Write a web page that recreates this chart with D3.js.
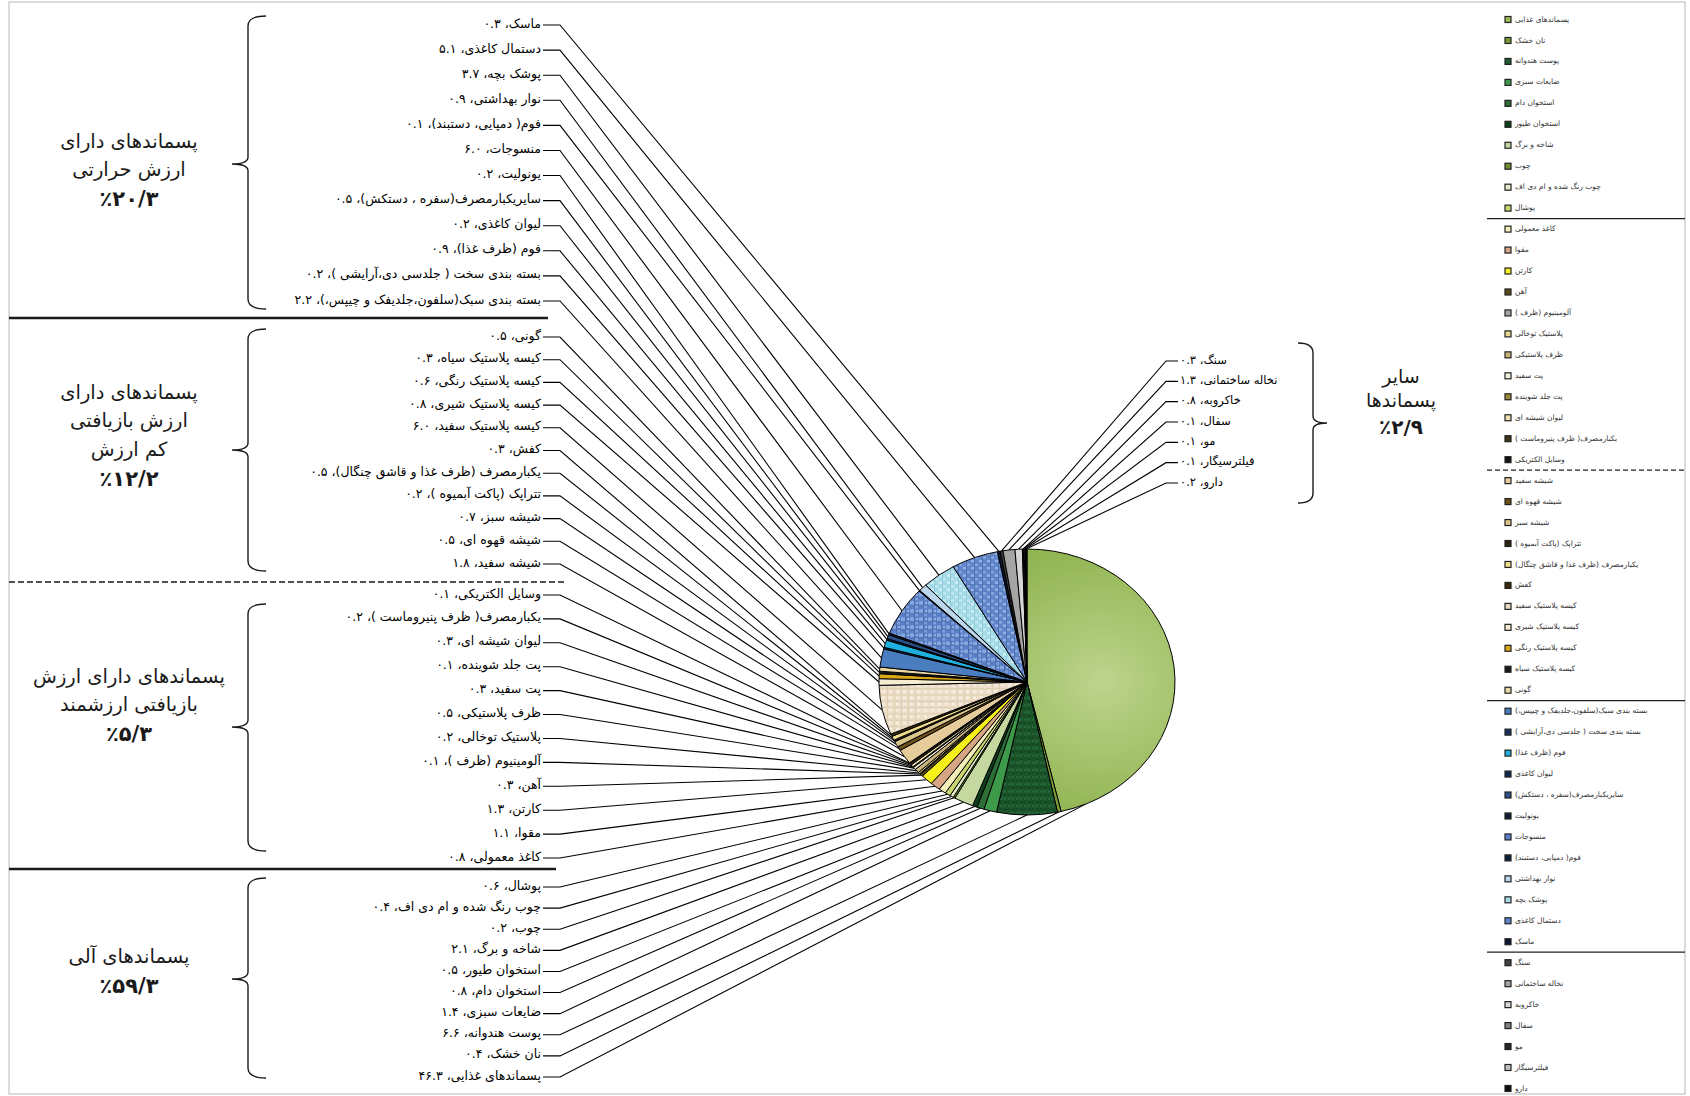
<!DOCTYPE html>
<html>
<head>
<meta charset="utf-8">
<script src="https://cdn.jsdelivr.net/npm/d3@7"></script>
<style>
  html, body { margin: 0; padding: 0; background: #fff; }
  svg { display: block; font-family: "DejaVu Sans", sans-serif; }
</style>
</head>
<body>
<svg id="chart" width="1690" height="1096"></svg>
<script>
// Waste components, in pie order (clockwise from 12 o'clock), percent by weight
const categories = [
  "پسماندهای غذایی", "نان خشک", "پوست هندوانه", "ضایعات سبزی", "استخوان دام",
  "استخوان طیور", "شاخه و برگ", "چوب", "چوب رنگ شده و ام دی اف", "پوشال",
  "کاغذ معمولی", "مقوا", "کارتن", "آهن", "آلومینیوم (ظرف )", "پلاستیک توخالی",
  "ظرف پلاستیکی", "پت سفید", "پت جلد شوینده", "لیوان شیشه ای",
  "یکبارمصرف( ظرف پنیروماست )", "وسایل الکتریکی",
  "شیشه سفید", "شیشه قهوه ای", "شیشه سبز", "تتراپک (پاکت آبمیوه )",
  "یکبارمصرف (ظرف غذا و قاشق چنگال)", "کفش", "کیسه پلاستیک سفید",
  "کیسه پلاستیک شیری", "کیسه پلاستیک رنگی", "کیسه پلاستیک سیاه", "گونی",
  "بسته بندی سبک(سلفون،جلدیفک و چیپس،)", "بسته بندی سخت ( جلدسی دی،آرایشی )",
  "فوم (ظرف غذا)", "لیوان کاغذی", "سایریکبارمصرف(سفره ، دستکش)", "یونولیت",
  "منسوجات", "فوم( دمپایی، دستبند)", "نوار بهداشتی", "پوشک بچه", "دستمال کاغذی", "ماسک",
  "سنگ", "نخاله ساختمانی", "خاکروبه", "سفال", "مو", "فیلترسیگار", "دارو"
];
const values = [
  46.3, 0.4, 6.6, 1.4, 0.8, 0.5, 2.1, 0.2, 0.4, 0.6,
  0.8, 1.1, 1.3, 0.3, 0.1, 0.2, 0.5, 0.3, 0.1, 0.3, 0.2, 0.1,
  1.8, 0.5, 0.7, 0.2, 0.5, 0.3, 6.0, 0.8, 0.6, 0.3, 0.5,
  2.2, 0.2, 0.9, 0.2, 0.5, 0.2, 6.0, 0.1, 0.9, 3.7, 5.1, 0.3,
  0.3, 1.3, 0.8, 0.1, 0.1, 0.1, 0.2
];
// number of consecutive components in each group
const groupSizes = [10, 12, 11, 12, 7];
const groupTitles = [
  ["پسماندهای آلی"],
  ["پسماندهای دارای ارزش", "بازیافتی ارزشمند"],
  ["پسماندهای دارای", "ارزش بازیافتی", "کم ارزش"],
  ["پسماندهای دارای", "ارزش حرارتی"],
  ["سایر", "پسماندها"]
];
const groupShares = [59.3, 5.3, 12.2, 20.3, 2.9];

// slice fills
const sliceColors = [
  "url(#foodGrad)", "#7a9a3a", "url(#patMelon)", "#3d9a4a", "#2b6e36",
  "#0f3d1c", "#c4d8a0", "#6f8f2f", "#e4edc8", "#c9d66f",
  "#f3eeb8", "#d6a583", "#f5ef1a", "#5a4a1a", "#a6a6a6", "#e8d890",
  "#c8b478", "#f5f0dc", "#9c8a3c", "#efe2b0", "#3e3415", "#111111",
  "#e6cc9a", "#6b4e1a", "#d9c48a", "#2b2410", "#f0dc8c", "#3a2a0a", "url(#patBeige)",
  "#f6ecd0", "#d9a81a", "#1a1a1a", "#e8d9a8",
  "#4a7cc0", "#16325c", "#20b0e0", "#0d2a50", "#2a4f8a", "#101c30",
  "url(#patBlue)", "#0c1f3d", "#bcd6ee", "url(#patCyan)", "url(#patBlue2)", "#0b1830",
  "#3f3f3f", "#a5a5a5", "#d6d6d6", "#7f7f7f", "#262626", "#bfbfbf", "#0d0d0d"
];
const legendColors = sliceColors.map(c => ({
  "url(#foodGrad)": "#9bbb59", "url(#patMelon)": "#1d5a2e", "url(#patBeige)": "#eadbc4",
  "url(#patBlue)": "#5b80c8", "url(#patCyan)": "#a6dbe8", "url(#patBlue2)": "#5f84cc"
}[c] || c));

const fa = s => String(s).replace(/\d/g, d => "۰۱۲۳۴۵۶۷۸۹"[+d]);

const data = categories.map((name, i) => ({ name, value: values[i], index: i }));

const svg = d3.select("#chart");
const defs = svg.append("defs");

// ----- fills -----
const fg = defs.append("radialGradient").attr("id", "foodGrad")
  .attr("gradientUnits", "userSpaceOnUse").attr("cx", 75).attr("cy", 0).attr("r", 150);
fg.append("stop").attr("offset", "0%").attr("stop-color", "#bdd48d");
fg.append("stop").attr("offset", "100%").attr("stop-color", "#92b553");

function pattern(id, size, bg, marks) {
  const p = defs.append("pattern").attr("id", id)
    .attr("patternUnits", "userSpaceOnUse").attr("width", size).attr("height", size);
  p.append("rect").attr("width", size).attr("height", size).attr("fill", bg);
  marks.forEach(m => p.append("rect").attr("x", m[0]).attr("y", m[1])
    .attr("width", m[2]).attr("height", m[3]).attr("fill", m[4]));
}
pattern("patBlue", 9, "#5a7fc6", [[0,0,4,4,"#86a7dd"],[5,5,3,3,"#7d9ed8"],[4,0,1,9,"#4a6db0"],[0,4,9,1,"#5274b6"],[6,1,2,2,"#9db8e6"]]);
pattern("patBlue2", 8, "#6186cc", [[0,0,3,3,"#93b2e3"],[4,4,3,3,"#86a6dc"],[3,0,1,8,"#4d6fb0"],[0,3,8,1,"#5578b8"]]);
pattern("patCyan", 8, "#a4d9e6", [[0,0,3,3,"#cdedf3"],[4,4,3,3,"#c0e6ee"],[3,0,1,8,"#8ccadb"]]);
pattern("patBeige", 7, "#ecdec8", [[0,0,7,1,"#ddccae"],[0,0,1,7,"#e0cfb2"],[2,2,3,3,"#f5ede0"]]);
pattern("patMelon", 8, "#1b5429", [[0,0,3,3,"#24643a"],[4,4,3,2,"#164a25"],[5,1,2,2,"#2a6a3c"],[1,5,2,2,"#123f1f"]]);

// ----- frame & separators -----
svg.append("rect").attr("x", 9).attr("y", 2).attr("width", 1676).attr("height", 1092)
  .attr("fill", "none").attr("stroke", "#c4c4c4").attr("stroke-width", 1.2);

const sep = (x1, x2, y, w, dash) => svg.append("line")
  .attr("x1", x1).attr("x2", x2).attr("y1", y).attr("y2", y)
  .attr("stroke", "#1a1a1a").attr("stroke-width", w).attr("stroke-dasharray", dash || null);
sep(9, 548, 318, 2.6);
sep(9, 565, 582, 1.6, "6,3");
sep(9, 556, 869, 2.6);

// ----- pie geometry -----
const cx = 1027, cy = 682, rx = 148, ry = 133;
const arcs = d3.pie().sort(null).value(d => d.value)(data);
const arcGen = d3.arc().innerRadius(0).outerRadius(rx);
const edgePoint = a => [cx + rx * Math.sin(a), cy - ry * Math.cos(a)];

// ----- label panels -----
const leftPanels = [
  { g: 3, top: 24, bottom: 300, braceTop: 16, braceBottom: 309, braceMid: 164, titleY: 142 },
  { g: 2, top: 336, bottom: 563, braceTop: 329, braceBottom: 571, braceMid: 450, titleY: 393 },
  { g: 1, top: 594, bottom: 857, braceTop: 604, braceBottom: 851, braceMid: 727, titleY: 677 },
  { g: 0, top: 886, bottom: 1076, braceTop: 878, braceBottom: 1078, braceMid: 979, titleY: 957 }
];
const groupStart = g => d3.sum(groupSizes.slice(0, g));

const labels = [];
leftPanels.forEach(p => {
  const n = groupSizes[p.g], s = groupStart(p.g);
  const step = (p.bottom - p.top) / (n - 1);
  for (let k = 0; k < n; k++) labels.push({ i: s + n - 1 - k, y: p.top + k * step, side: "left" });
});
{
  const g = 4, n = groupSizes[g], s = groupStart(g), top = 360, bottom = 482;
  for (let k = 0; k < n; k++) labels.push({ i: s + k, y: top + k * (bottom - top) / (n - 1), side: "right" });
}

const LX = 541, LTICK = 560, RX = 1180, RTICK = 1166;
labels.forEach(l => {
  const a = arcs[l.i];
  const tx = l.side === "left" ? LTICK : RTICK;
  let ang = (a.startAngle + a.endAngle) / 2;
  const span = a.endAngle - a.startAngle;
  if (span > Math.PI / 2) {
    let dir = Math.atan2(tx - cx, -(l.y - cy));
    if (dir < 0) dir += 2 * Math.PI;
    ang = Math.max(a.startAngle + span * 0.06, Math.min(a.endAngle - span * 0.06, dir));
  }
  l.anchor = edgePoint(ang);
  l.tick = tx;
});

// leader lines
svg.append("g").selectAll("polyline").data(labels).join("polyline")
  .attr("points", l => {
    const x0 = l.side === "left" ? LX + 2 : RX - 2;
    return [[x0, l.y + 1], [l.tick, l.y + 1], l.anchor].map(p => p.join(",")).join(" ");
  })
  .attr("fill", "none").attr("stroke", "#000").attr("stroke-width", 1.1);

// label text
svg.append("g").selectAll("text").data(labels).join("text")
  .attr("x", l => l.side === "left" ? LX : RX)
  .attr("y", l => l.y)
  .attr("dominant-baseline", "middle")
  .attr("direction", "rtl")
  .attr("text-anchor", l => l.side === "left" ? "start" : "end")
  .attr("font-size", l => l.side === "left" ? 12.5 : 11.5)
  .attr("fill", "#000")
  .text(l => `${categories[l.i]}، ${fa(values[l.i].toFixed(1))}`);

// ----- pie -----
svg.append("g").attr("transform", `translate(${cx},${cy}) scale(1,${ry / rx})`)
  .selectAll("path").data(arcs).join("path")
  .attr("d", arcGen)
  .attr("fill", d => sliceColors[d.index])
  .attr("stroke", "#000").attr("stroke-width", 1)
  .attr("vector-effect", "non-scaling-stroke");

// ----- braces & group titles -----
function braceLeft(x, top, bot, mid) {
  return `M${x + 18},${top} Q${x},${top} ${x},${top + 10} L${x},${mid - 7} Q${x},${mid} ${x - 16},${mid}` +
         ` Q${x},${mid} ${x},${mid + 7} L${x},${bot - 10} Q${x},${bot} ${x + 18},${bot}`;
}
function braceRight(x, top, bot, mid) {
  return `M${x - 15},${top} Q${x},${top} ${x},${top + 10} L${x},${mid - 7} Q${x},${mid} ${x + 14},${mid}` +
         ` Q${x},${mid} ${x},${mid + 7} L${x},${bot - 10} Q${x},${bot} ${x - 15},${bot}`;
}
const shareText = v => "٪" + fa(v.toFixed(1)).replace(".", "/");

leftPanels.forEach(p => {
  svg.append("path").attr("d", braceLeft(248, p.braceTop, p.braceBottom, p.braceMid))
    .attr("fill", "none").attr("stroke", "#1a1a1a").attr("stroke-width", 1.4);
  const lines = groupTitles[p.g];
  const t = svg.append("g");
  lines.forEach((s, k) => t.append("text").attr("x", 129).attr("y", p.titleY + k * 28.5)
    .attr("text-anchor", "middle").attr("dominant-baseline", "middle").attr("direction", "rtl")
    .attr("font-size", 19.5).attr("fill", "#1a1a1a").text(s));
  t.append("text").attr("x", 129).attr("y", p.titleY + lines.length * 28.5 + 1)
    .attr("text-anchor", "middle").attr("dominant-baseline", "middle")
    .attr("font-size", 21).attr("font-weight", "bold").attr("fill", "#1a1a1a")
    .text(shareText(groupShares[p.g]));
});
{
  svg.append("path").attr("d", braceRight(1313, 343, 503, 423))
    .attr("fill", "none").attr("stroke", "#1a1a1a").attr("stroke-width", 1.4);
  const lines = groupTitles[4];
  lines.forEach((s, k) => svg.append("text").attr("x", 1401).attr("y", 377 + k * 24)
    .attr("text-anchor", "middle").attr("dominant-baseline", "middle").attr("direction", "rtl")
    .attr("font-size", 19).attr("fill", "#1a1a1a").text(s));
  svg.append("text").attr("x", 1401).attr("y", 377 + lines.length * 24 + 3)
    .attr("text-anchor", "middle").attr("dominant-baseline", "middle")
    .attr("font-size", 20).attr("font-weight", "bold").attr("fill", "#1a1a1a")
    .text(shareText(groupShares[4]));
}

// ----- legend -----
const legY = i => 19.5 + i * 20.96;
const legend = svg.append("g");
let acc = 0;
groupSizes.slice(0, -1).forEach((n, g) => {
  acc += n;
  const y = (legY(acc - 1) + legY(acc)) / 2;
  legend.append("line").attr("x1", 1487).attr("x2", 1685).attr("y1", y).attr("y2", y)
    .attr("stroke", "#222").attr("stroke-width", 1.3)
    .attr("stroke-dasharray", g === 1 ? "5,3" : null);
});
const items = legend.selectAll("g.item").data(data).join("g").attr("class", "item")
  .attr("transform", d => `translate(0,${legY(d.index)})`);
items.append("rect").attr("x", 1505).attr("y", -3).attr("width", 6).attr("height", 6)
  .attr("fill", d => legendColors[d.index]).attr("stroke", "#222").attr("stroke-width", 1.2);
items.append("text").attr("x", 1515).attr("y", 0)
  .attr("dominant-baseline", "middle").attr("direction", "rtl").attr("text-anchor", "end")
  .attr("font-size", 7.5).attr("fill", "#333")
  .text(d => d.name);
</script>
</body>
</html>
